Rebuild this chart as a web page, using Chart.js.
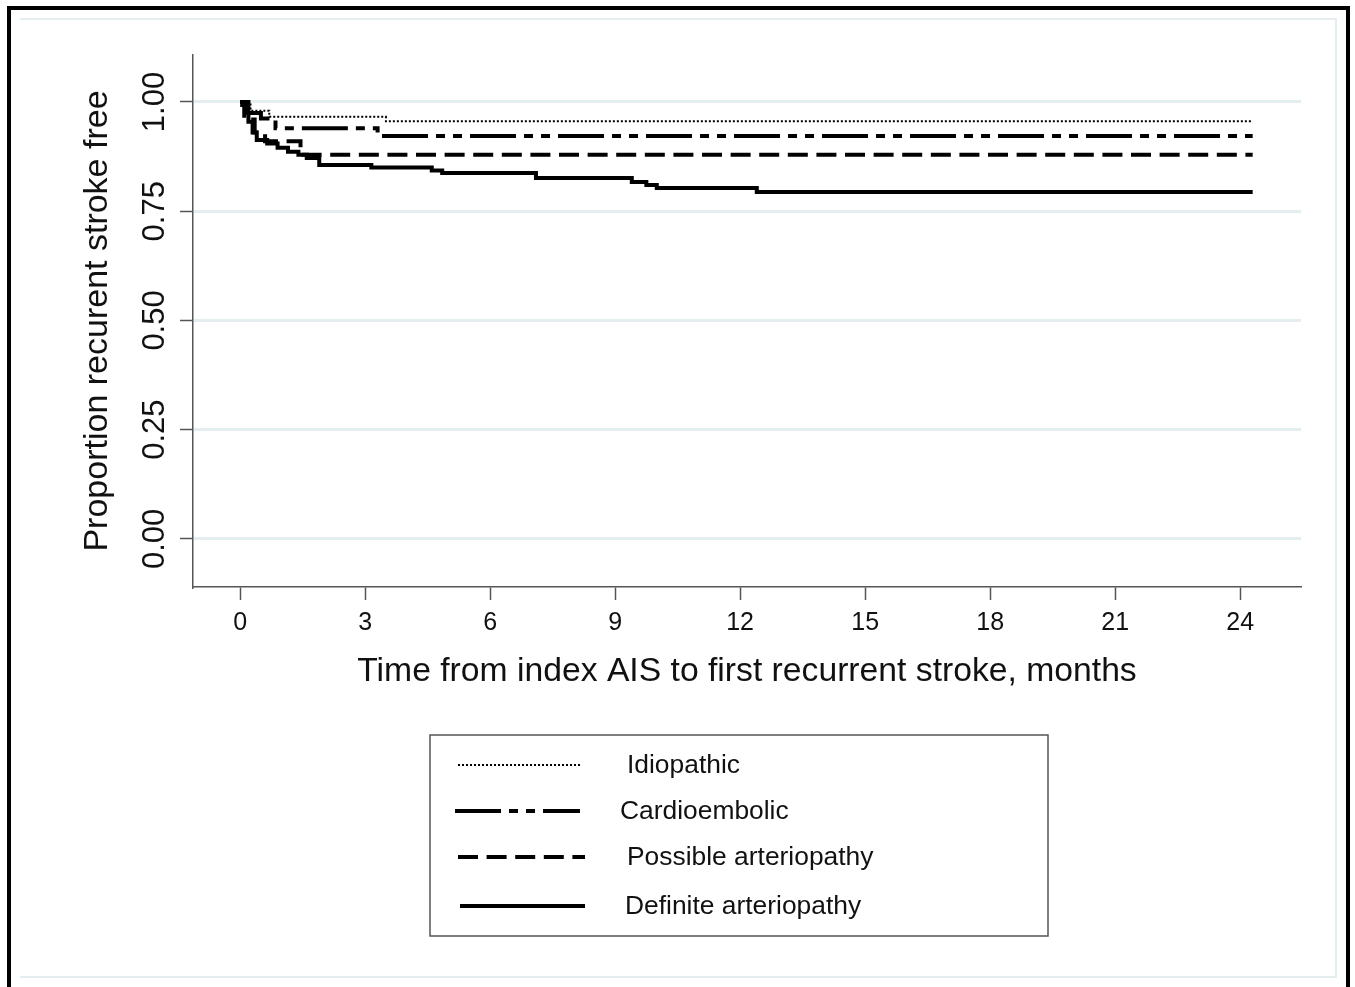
<!DOCTYPE html>
<html>
<head>
<meta charset="utf-8">
<script src="https://cdn.jsdelivr.net/npm/chart.js@4.4.1/dist/chart.umd.min.js"></script>
<style>
  html, body { margin: 0; padding: 0; background: #fff; overflow: hidden; }
  #wrap { position: relative; width: 1355px; height: 987px; }
  canvas { display: block; }
</style>
</head>
<body>
<div id="wrap"><canvas id="c" width="1355" height="987"></canvas></div>
<script>
// ---- Data (months, proportion recurrent stroke free) ----
const seriesNames = ["Idiopathic", "Cardioembolic", "Possible arteriopathy", "Definite arteriopathy"];

const idiopathicT = [0, 0.25, 0.7, 3.5, 24.3];
const idiopathicS = [1.00, 0.980, 0.966, 0.956, 0.956];

const cardioT = [0, 0.2, 0.5, 0.85, 3.3, 24.3];
const cardioS = [1.00, 0.975, 0.962, 0.940, 0.922, 0.922];

const possibleT = [0, 0.1, 0.35, 0.6, 1.45, 24.3];
const possibleS = [1.00, 0.960, 0.930, 0.910, 0.879, 0.879];

const definiteT = [0, 0.05, 0.12, 0.2, 0.3, 0.4, 0.65, 0.9, 1.15, 1.4, 1.6, 1.9, 3.15, 4.6, 4.85, 7.1, 9.4, 9.75, 10.0, 12.4, 24.3];
const definiteS = [1.00, 0.993, 0.975, 0.955, 0.930, 0.913, 0.905, 0.895, 0.886, 0.879, 0.872, 0.856, 0.850, 0.843, 0.8375, 0.826, 0.817, 0.810, 0.803, 0.794, 0.794];

const xTicks = [0, 3, 6, 9, 12, 15, 18, 21, 24];
const yTicks = [0, 0.25, 0.5, 0.75, 1.0];

const xTitle = "Time from index AIS to first recurrent stroke, months";
const yTitle = "Proportion recurent stroke free";

function pts(t, s) { return t.map((v, i) => ({ x: v, y: s[i] })); }

const FONT = "'Liberation Sans', Arial, Helvetica, sans-serif";
const GRID = '#e4edef';
const AXIS = '#555555';

// frame + legend drawing
const framePlugin = {
  id: 'frame',
  beforeDraw(chart) {
    const ctx = chart.ctx;
    ctx.save();
    ctx.fillStyle = '#fff';
    ctx.fillRect(0, 0, chart.width, chart.height);
    // light inner frame
    ctx.strokeStyle = GRID;
    ctx.lineWidth = 2;
    ctx.beginPath();
    ctx.moveTo(20, 19); ctx.lineTo(1336, 19); ctx.lineTo(1336, 977); ctx.lineTo(20, 977);
    ctx.stroke();
    // black outer frame
    ctx.strokeStyle = '#000';
    ctx.lineWidth = 4;
    ctx.strokeRect(9, 8, 1339, 1000);
    ctx.restore();
  },
  afterDraw(chart) {
    const ctx = chart.ctx;
    ctx.save();
    const bx = 430, by = 735, bw = 618, bh = 201;
    ctx.strokeStyle = AXIS;
    ctx.lineWidth = 1.5;
    ctx.setLineDash([]);
    ctx.strokeRect(bx, by, bw, bh);
    const lineY = [765, 811, 857, 906];
    const textX = [627, 620, 627, 625];
    const lineX0 = [458, 455, 458, 460];
    const lineX1 = [580, 580, 585, 585];
    chart.data.datasets.forEach((ds, i) => {
      ctx.strokeStyle = ds.borderColor;
      ctx.lineWidth = ds.borderWidth;
      ctx.setLineDash(ds.borderDash || []);
      ctx.beginPath();
      ctx.moveTo(lineX0[i], lineY[i]);
      ctx.lineTo(lineX1[i], lineY[i]);
      ctx.stroke();
      ctx.setLineDash([]);
      ctx.fillStyle = '#111';
      ctx.font = '26.4px ' + FONT;
      ctx.textBaseline = 'middle';
      ctx.textAlign = 'left';
      ctx.fillText(ds.label, textX[i], lineY[i] + 1);
    });
    ctx.restore();
  }
};

const ctx = document.getElementById('c').getContext('2d');
new Chart(ctx, {
  type: 'line',
  data: {
    datasets: [
      { label: seriesNames[0], data: pts(idiopathicT, idiopathicS), borderColor: '#000', borderWidth: 2, borderDash: [2, 2] },
      { label: seriesNames[1], data: pts(cardioT, cardioS), borderColor: '#000', borderWidth: 4, borderDash: [46, 8, 9, 8, 9, 8] },
      { label: seriesNames[2], data: pts(possibleT, possibleS), borderColor: '#000', borderWidth: 4, borderDash: [20, 8.6] },
      { label: seriesNames[3], data: pts(definiteT, definiteS), borderColor: '#000', borderWidth: 4, borderDash: [] }
    ]
  },
  options: {
    responsive: false,
    devicePixelRatio: 1,
    animation: false,
    parsing: true,
    elements: {
      line: { stepped: true, tension: 0, fill: false },
      point: { radius: 0, hoverRadius: 0 }
    },
    layout: { padding: { left: 0, top: 55, right: 54, bottom: 0 } },
    plugins: {
      legend: { display: false },
      tooltip: { enabled: false }
    },
    scales: {
      x: {
        type: 'linear',
        position: 'bottom',
        min: -1.13,
        max: 25.46,
        afterBuildTicks: (s) => { s.ticks = xTicks.map(v => ({ value: v })); },
        afterFit: (s) => { s.height = 400; },
        grid: { display: true, drawOnChartArea: false, drawTicks: true, tickLength: 13, tickColor: AXIS, tickWidth: 1.5 },
        border: { display: true, color: AXIS, width: 1.5 },
        ticks: {
          color: '#111', font: { family: FONT, size: 25 }, padding: 8,
          maxRotation: 0, minRotation: 0, autoSkip: false,
          callback: (v) => String(v)
        },
        title: {
          display: true, text: xTitle, color: '#111',
          font: { family: FONT, size: 33.7 },
          padding: { top: 0, bottom: 295 }
        }
      },
      y: {
        type: 'linear',
        position: 'left',
        min: -0.11,
        max: 1.1075,
        afterBuildTicks: (s) => { s.ticks = yTicks.map(v => ({ value: v })); },
        afterFit: (s) => { s.width = 193; },
        grid: { display: true, drawOnChartArea: true, drawTicks: true, tickLength: 13, color: GRID, lineWidth: 3, tickColor: AXIS, tickWidth: 1.5 },
        border: { display: true, color: AXIS, width: 1.5 },
        ticks: {
          color: '#111', font: { family: FONT, size: 31 }, padding: -6,
          minRotation: 90, maxRotation: 90, crossAlign: 'center', autoSkip: false,
          callback: (v) => Number(v).toFixed(2)
        },
        title: {
          display: true, text: yTitle, color: '#111',
          font: { family: FONT, size: 34 },
          padding: { top: 77, bottom: 0 }
        }
      }
    }
  },
  plugins: [framePlugin]
});
</script>
</body>
</html>
